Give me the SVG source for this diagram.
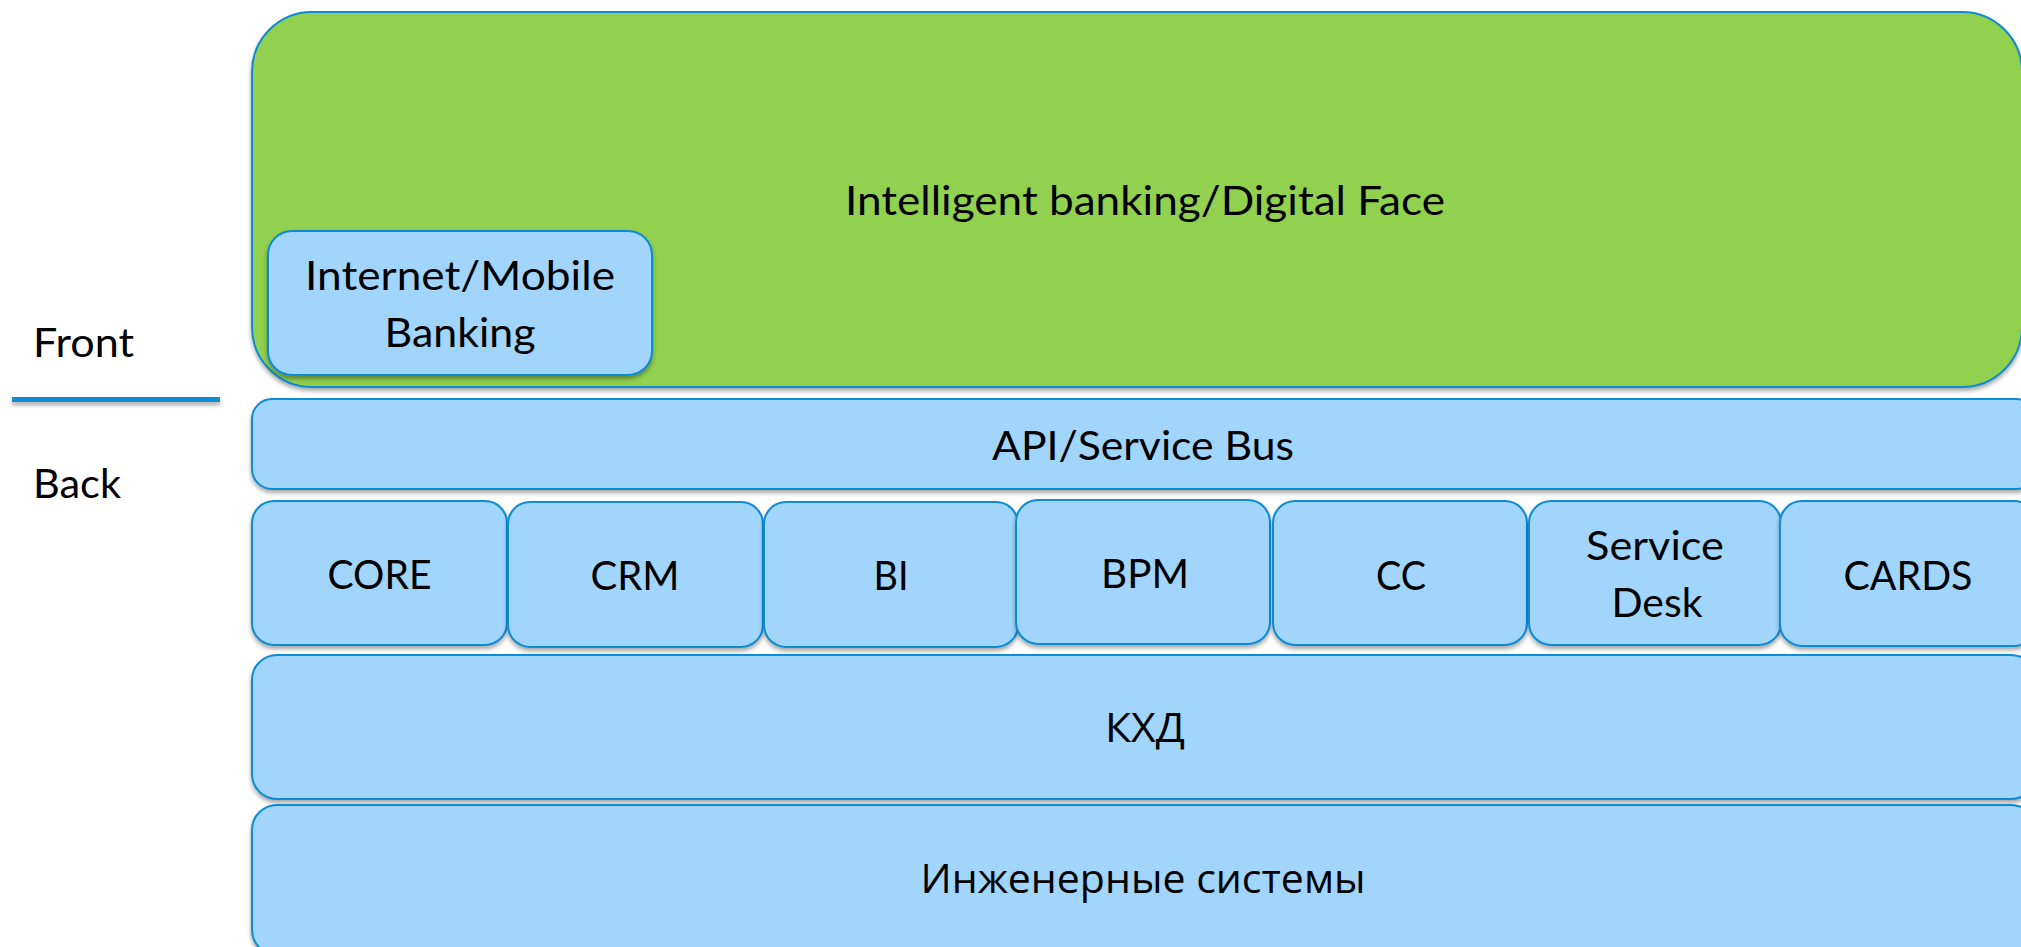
<svg xmlns="http://www.w3.org/2000/svg" width="2021" height="947" viewBox="0 0 2021 947">
  <defs>
    <filter id="sh" x="-5%" y="-10%" width="110%" height="130%">
      <feDropShadow dx="0" dy="3" stdDeviation="2" flood-color="#000" flood-opacity="0.35"/>
    </filter>
    <filter id="shl" filterUnits="userSpaceOnUse" x="0" y="390" width="240" height="25">
      <feDropShadow dx="0" dy="3" stdDeviation="2" flood-color="#000" flood-opacity="0.35"/>
    </filter>
  </defs>
  <style>
    .box { fill: #a1d5fc; stroke: #0d8bd3; stroke-width: 2; filter: url(#sh); }
    .green { fill: #92d050; stroke: #0d8bd3; stroke-width: 2; filter: url(#sh); }
    .t { font-family: Lato, "Open Sans", "Noto Sans", sans-serif; font-size: 40px; fill: #000; text-anchor: middle; }
    .cy { font-family: "Open Sans", "Noto Sans", "DejaVu Sans", sans-serif; font-size: 40px; fill: #000; text-anchor: middle; }
    .lbl { font-family: Lato, "Open Sans", "Noto Sans", sans-serif; font-size: 40px; fill: #000; }
  </style>
  <rect width="2021" height="947" fill="#ffffff"/>

  <g id="labels">
    <text class="lbl" x="33" y="357" textLength="101" lengthAdjust="spacingAndGlyphs">Front</text>
    <text class="lbl" x="33" y="498" textLength="88" lengthAdjust="spacingAndGlyphs">Back</text>
    <rect x="12" y="397" width="208" height="5" fill="#0d8bd3" filter="url(#shl)"/>
  </g>

  <g id="digital-face">
    <rect class="green" x="252" y="12" width="1770" height="375" rx="60" ry="60"/>
    <text class="t" x="1145" y="215" font-size="44" textLength="600" lengthAdjust="spacingAndGlyphs">Intelligent banking/Digital Face</text>
  </g>

  <g id="internet-mobile">
    <rect class="box" x="268" y="231" width="384" height="144" rx="24" ry="24"/>
    <text class="t" x="460" y="290" font-size="38" textLength="310" lengthAdjust="spacingAndGlyphs">Internet/Mobile</text>
    <text class="t" x="460" y="347" font-size="38" textLength="151" lengthAdjust="spacingAndGlyphs">Banking</text>
  </g>

  <g id="api-bus">
    <rect class="box" x="252" y="399" width="1784" height="90" rx="20" ry="20"/>
    <text class="t" x="1143" y="460" font-size="38" textLength="302" lengthAdjust="spacingAndGlyphs">API/Service Bus</text>
  </g>

  <g id="core">
    <rect class="box" x="252" y="501" width="255" height="144" rx="22" ry="22"/>
    <text class="t" x="379.5" y="589" textLength="104" lengthAdjust="spacingAndGlyphs">CORE</text>
  </g>
  <g id="crm">
    <rect class="box" x="508" y="502" width="255" height="145" rx="22" ry="22"/>
    <text class="t" x="635" y="590" textLength="89" lengthAdjust="spacingAndGlyphs">CRM</text>
  </g>
  <g id="bi">
    <rect class="box" x="764" y="502" width="254" height="145" rx="22" ry="22"/>
    <text class="t" x="891" y="590" textLength="35" lengthAdjust="spacingAndGlyphs">BI</text>
  </g>
  <g id="bpm">
    <rect class="box" x="1016" y="500" width="254" height="144" rx="22" ry="22"/>
    <text class="t" x="1145" y="588" textLength="88" lengthAdjust="spacingAndGlyphs">BPM</text>
  </g>
  <g id="cc">
    <rect class="box" x="1273" y="501" width="254" height="144" rx="22" ry="22"/>
    <text class="t" x="1401" y="590" textLength="50" lengthAdjust="spacingAndGlyphs">CC</text>
  </g>
  <g id="service-desk">
    <rect class="box" x="1529" y="501" width="252" height="144" rx="22" ry="22"/>
    <text class="t" x="1655" y="560" textLength="138" lengthAdjust="spacingAndGlyphs">Service</text>
    <text class="t" x="1657" y="617" textLength="91" lengthAdjust="spacingAndGlyphs">Desk</text>
  </g>
  <g id="cards">
    <rect class="box" x="1780" y="501" width="256" height="145" rx="22" ry="22"/>
    <text class="t" x="1908" y="590" textLength="129" lengthAdjust="spacingAndGlyphs">CARDS</text>
  </g>

  <g id="khd">
    <rect class="box" x="252" y="655" width="1784" height="144" rx="25" ry="25"/>
    <text class="cy" x="1145" y="742" textLength="80" lengthAdjust="spacingAndGlyphs">КХД</text>
  </g>

  <g id="engineering">
    <rect class="box" x="252" y="805" width="1784" height="150" rx="25" ry="25"/>
    <text class="cy" x="1143" y="893" font-size="42" textLength="445" lengthAdjust="spacingAndGlyphs">Инженерные системы</text>
  </g>

  <g id="connectors"></g>
</svg>
